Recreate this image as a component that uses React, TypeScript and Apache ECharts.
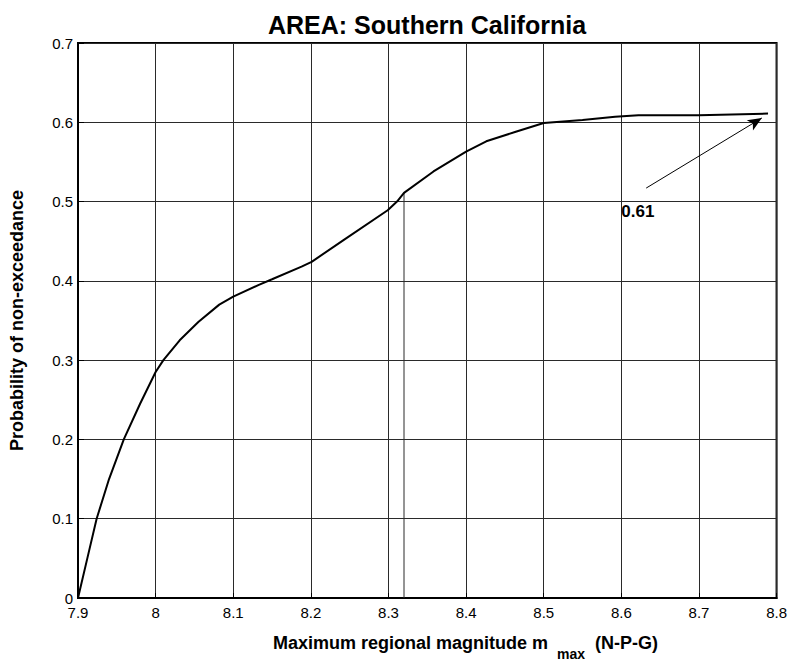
import React, { useEffect, useRef } from "react";
import * as echarts from "echarts";

const magnitudes = [
  7.9, 7.912, 7.924, 7.94, 7.959, 7.98, 8.0, 8.01, 8.031, 8.055, 8.082, 8.1,
  8.133, 8.15, 8.188, 8.201, 8.243, 8.299, 8.311, 8.32, 8.358, 8.4, 8.426,
  8.464, 8.5, 8.55, 8.592, 8.622, 8.7, 8.789,
];
const probabilities = [
  0.0, 0.05, 0.1, 0.15, 0.2, 0.245, 0.285, 0.3, 0.325, 0.348, 0.37, 0.38,
  0.395, 0.402, 0.418, 0.424, 0.452, 0.489, 0.5, 0.511, 0.538, 0.563, 0.576,
  0.588, 0.599, 0.603, 0.607, 0.609, 0.609, 0.611,
];
const markerX = [8.32, 8.32];
const markerY = [0, 0.511];
const arrowFrom = [8.632, 0.517];
const arrowTo = [8.781, 0.6054];
const annotationPos = [8.6, 0.488];
const annotationText = "0.61";
const titleText = "AREA: Southern California";
const yAxisTitle = "Probability of non-exceedance";
const xAxisTitleMain = "Maximum regional magnitude m";
const xAxisTitleSub = "max";
const xAxisTitleTail = "(N-P-G)";

const FONT = "Liberation Sans, Arial, Helvetica, sans-serif";
const fmt = (v: number) => String(Math.round(v * 10) / 10);

export default function App() {
  const ref = useRef<HTMLDivElement>(null);
  useEffect(() => {
    if (!ref.current) return;
    const chart = echarts.init(ref.current, null, { renderer: "svg" });
    const curve = magnitudes.map((m, i) => [m, probabilities[i]]);
    const marker = markerX.map((m, i) => [m, markerY[i]]);
    chart.setOption({
      animation: false,
      backgroundColor: "#fff",
      textStyle: { fontFamily: FONT },
      title: {
        text: titleText,
        left: 263,
        top: 7,
        textStyle: { fontFamily: FONT, fontSize: 25, fontWeight: "bold", color: "#000" },
      },
      grid: {
        left: 74,
        top: 43,
        right: 10,
        bottom: 65,
        show: true,
        borderColor: "#000",
        borderWidth: 2,
        backgroundColor: "#fff",
      },
      xAxis: {
        type: "value",
        min: 7.9,
        max: 8.8,
        interval: 0.1,
        axisLine: { show: true, lineStyle: { color: "#000", width: 2 } },
        axisTick: { show: true, inside: true, length: 5, lineStyle: { color: "#000" } },
        axisLabel: {
          formatter: fmt,
          color: "#000",
          fontFamily: FONT,
          fontSize: 15,
          margin: 8,
          lineHeight: 13,
        },
        splitLine: { show: true, lineStyle: { color: "#2a2a2a", width: 1 } },
      },
      yAxis: {
        type: "value",
        min: 0,
        max: 0.7,
        interval: 0.1,
        name: yAxisTitle,
        nameLocation: "middle",
        nameGap: 52,
        nameTextStyle: { fontFamily: FONT, fontSize: 18, fontWeight: "bold", color: "#000" },
        axisLine: { show: true, lineStyle: { color: "#000", width: 2 } },
        axisTick: { show: true, inside: true, length: 6, lineStyle: { color: "#000" } },
        axisLabel: {
          formatter: fmt,
          color: "#000",
          fontFamily: FONT,
          fontSize: 15,
          margin: 5,
          lineHeight: 12,
        },
        splitLine: { show: true, lineStyle: { color: "#2a2a2a", width: 1 } },
      },
      graphic: [
        {
          type: "text",
          left: 273,
          top: 634,
          style: { text: xAxisTitleMain, fontFamily: FONT, fontSize: 18, fontWeight: "bold", fill: "#000" },
        },
        {
          type: "text",
          left: 557,
          top: 647,
          style: { text: xAxisTitleSub, fontFamily: FONT, fontSize: 14, fontWeight: "bold", fill: "#000" },
        },
        {
          type: "text",
          left: 595,
          top: 634,
          style: { text: xAxisTitleTail, fontFamily: FONT, fontSize: 18, fontWeight: "bold", fill: "#000" },
        },
      ],
      series: [
        {
          type: "line",
          data: curve,
          showSymbol: false,
          smooth: false,
          lineStyle: { color: "#000", width: 2 },
          z: 5,
          markLine: {
            silent: true,
            symbol: ["none", "arrow"],
            symbolSize: [9, 14],
            label: { show: false },
            lineStyle: { color: "#000", width: 1, type: "solid" },
            data: [
              [
                { coord: arrowFrom, symbol: "none" },
                { coord: arrowTo, symbol: "arrow" },
              ],
            ],
          },
        },
        {
          type: "line",
          data: marker,
          showSymbol: false,
          lineStyle: { color: "#2a2a2a", width: 1 },
          z: 3,
        },
        {
          type: "scatter",
          data: [annotationPos],
          symbolSize: 0,
          itemStyle: { color: "#000", opacity: 1 },
          z: 6,
          label: {
            show: true,
            position: "right",
            distance: 0,
            formatter: annotationText,
            fontFamily: FONT,
            fontSize: 17,
            fontWeight: "bold",
            color: "#000",
            textBorderWidth: 0,
            opacity: 1,
          },
        },
      ],
    });
    return () => chart.dispose();
  }, []);
  return (
    <div
      ref={ref}
      style={{ position: "fixed", left: 0, top: 0, width: 790, height: 663 }}
    />
  );
}
